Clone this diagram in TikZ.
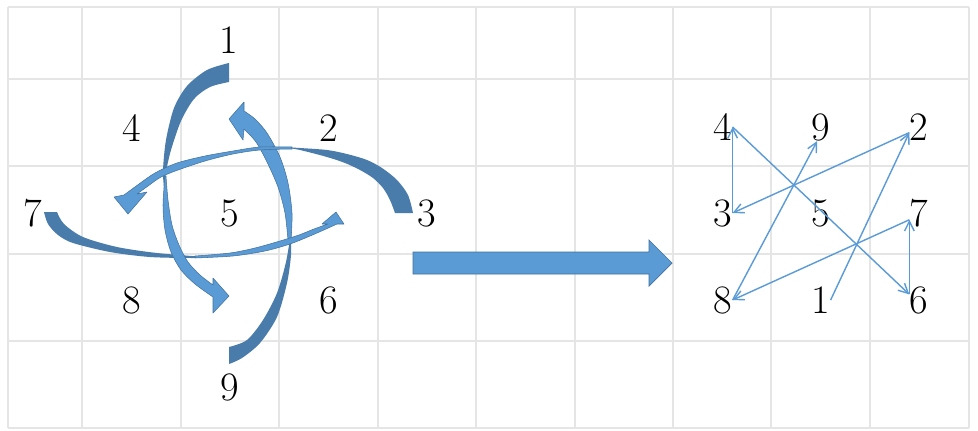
\documentclass[tikz,border=0pt]{standalone}
\usetikzlibrary{arrows.meta}
\definecolor{lightblue}{HTML}{5B9BD5}
\definecolor{darkblue}{HTML}{497CAA}
\definecolor{edgeblue}{HTML}{41719C}

\begin{document}
\begin{tikzpicture}[
  x=0.02cm, y=-0.02cm,
  num/.style={font=\fontsize{23}{27}\selectfont, inner sep=0pt},
  gridline/.style={draw=black!10, line width=0.6pt},
  back/.style={fill=darkblue},
  front/.style={fill=lightblue, draw=edgeblue, line width=0.3pt, line join=round},
  link/.style={-{Straight Barb[length=5.5pt, width=5.5pt]}, draw=lightblue, line width=0.8pt},
  block/.style={fill=lightblue, draw=edgeblue, line width=0.4pt}
]
\useasboundingbox (0,0) rectangle (978,430);
\fill[white] (0,0) rectangle (978,430);

% grid
\draw[gridline] (8,7) -- (8,428) (82,7) -- (82,428) (181,7) -- (181,428) (279,7) -- (279,428)
  (378,7) -- (378,428) (476,7) -- (476,428) (575,7) -- (575,428) (673,7) -- (673,428)
  (771,7) -- (771,428) (870,7) -- (870,428) (969,7) -- (969,428);
\draw[gridline] (8,7) -- (969,7) (8,79) -- (969,79) (8,166) -- (969,166)
  (8,254) -- (969,254) (8,341) -- (969,341) (8,428) -- (969,428);

% pinwheel, back faces
\fill[back] plot[smooth] coordinates {(229,63) (207,70) (187,86) (174,108) (166,140) (163,170) (164,188)}
  -- plot[smooth] coordinates {(164,188) (166,172) (171,150) (181,121) (194,99) (210,87) (229,82)} -- cycle;
\fill[back] plot[smooth] coordinates {(229,364) (242,358) (260,343) (277,317) (287,283) (291,255) (291,232)}
  -- plot[smooth] coordinates {(291,232) (286,262) (277,293) (263,320) (247,340) (229,347)} -- cycle;
\fill[back] plot[smooth] coordinates {(413,213) (408,195) (397,180) (382,168) (367,160) (347,154) (327,150) (300,148) (282,147)}
  -- plot[smooth] coordinates {(282,147) (300,150) (327,157) (345,163) (360,170) (373,178) (383,188) (390,200) (395,213)} -- cycle;
\fill[back] plot[smooth] coordinates {(44,212) (48,224) (58,235) (73,243) (110,252) (150,257) (193,258) (205,257)}
  -- plot[smooth] coordinates {(205,257) (157,253) (117,247) (83,237) (64,224) (57,212)} -- cycle;

% pinwheel, front faces with heads
\filldraw[front] plot[smooth] coordinates {(165,176) (163,205) (165,230) (171,252) (181,270) (195,284) (213,297)}
  -- (213,313) -- (229,296) -- (213,278) -- (213,285)
  -- plot[smooth] coordinates {(213,285) (200,275) (188,262) (179,245) (172,225) (168,200) (166,176)} -- cycle;
\filldraw[front] plot[smooth] coordinates {(291,240) (292,213) (288,183) (280,157) (267,133) (255,119) (244,111)}
  -- (244,102) -- (229,119) -- (243,140) -- (244,129)
  -- plot[smooth] coordinates {(244,129) (256,142) (267,162) (278,187) (285,213) (288,240)} -- cycle;
\filldraw[front] plot[smooth] coordinates {(292,147) (260,147) (233,151) (205,156) (177,163) (155,173) (139,184) (124,195)}
  -- (114,197) -- (128,214) -- (147,192) -- (137,194)
  -- plot[smooth] coordinates {(137,194) (148,186) (161,177) (178,170) (205,161) (233,154) (260,150) (292,149)} -- cycle;
\filldraw[front] plot[smooth] coordinates {(195,258) (233,256) (265,251) (290,244) (310,236) (326,229) (337,224)}
  -- (344,224) -- (336,212) -- (322,224) -- (328,224)
  -- plot[smooth] coordinates {(328,224) (314,229) (299,235) (280,241) (255,248) (230,253) (195,256)} -- cycle;

\node[num] (l1) at (229,40) {1};
\node[num] (l4) at (132,128) {4};
\node[num] (l2) at (329,128) {2};
\node[num] (l7) at (33,213) {7};
\node[num] (l5) at (230,213) {5};
\node[num] (l3) at (427,213) {3};
\node[num] (l8) at (132,300) {8};
\node[num] (l6) at (329,300) {6};
\node[num] (l9) at (230,387) {9};

% big arrow
\filldraw[block] (413,252) -- (649,252) -- (649,240) -- (672,263) -- (649,286) -- (649,274) -- (413,274) -- cycle;

\node[num] (r4) at (723,127) {4};
\node[num] (r9) at (821,127) {9};
\node[num] (r2) at (919,127) {2};
\node[num] (r3) at (723,213) {3};
\node[num] (r5) at (821,213) {5};
\node[num] (r7) at (919,213) {7};
\node[num] (r8) at (723,300) {8};
\node[num] (r1) at (821,300) {1};
\node[num] (r6) at (919,300) {6};

\draw[link] (r1.east) -- (r2.210);
\draw[link] (r2.210) -- (r3.east);
\draw[link] (r3.east) -- (r4.east);
\draw[link] (r4.east) -- (r6.150);
\draw[link] (r6.150) -- (r7.215);
\draw[link] (r7.215) -- (r8.east);
\draw[link] (r8.east) -- (r9.255);

\end{tikzpicture}
\end{document}
